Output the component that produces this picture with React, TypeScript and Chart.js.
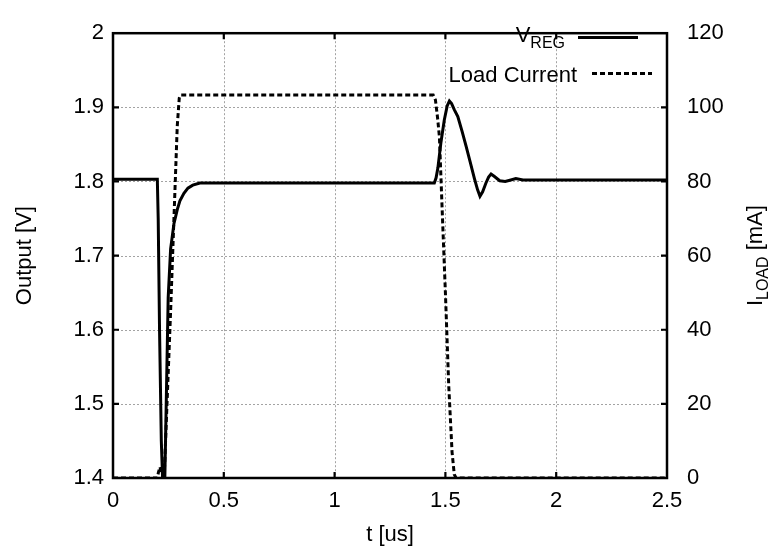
import React, { useEffect, useRef } from "react";
import { Chart, registerables } from "chart.js";

Chart.register(...registerables);

// ---- data (time in microseconds) ----
const vregTime = [0, 0.2, 0.204, 0.21, 0.218, 0.226, 0.232, 0.24, 0.249, 0.26, 0.275, 0.29, 0.302, 0.32, 0.338, 0.36, 0.392, 0.45, 1.45, 1.458, 1.466, 1.48, 1.495, 1.508, 1.518, 1.528, 1.54, 1.556, 1.575, 1.593, 1.612, 1.631, 1.645, 1.656, 1.668, 1.683, 1.695, 1.706, 1.72, 1.745, 1.77, 1.795, 1.818, 1.85, 1.9, 2.0, 2.5];
const vregValues = [1.803, 1.803, 1.75, 1.6, 1.45, 1.38, 1.37, 1.497, 1.643, 1.709, 1.743, 1.762, 1.774, 1.784, 1.791, 1.795, 1.798, 1.798, 1.798, 1.805, 1.818, 1.853, 1.883, 1.902, 1.9085, 1.905, 1.897, 1.8875, 1.868, 1.848, 1.826, 1.804, 1.789, 1.78, 1.786, 1.798, 1.806, 1.81, 1.807, 1.801, 1.8, 1.802, 1.804, 1.802, 1.802, 1.802, 1.802];

const loadTime = [0, 0.2, 0.205, 0.212, 0.218, 0.225, 0.232, 0.26, 0.29, 0.299, 0.305, 1.445, 1.455, 1.465, 1.473, 1.485, 1.5, 1.515, 1.53, 1.54, 1.548, 2.5];
const loadValues = [0, 0, 1.5, 3, 1.5, 0.5, 2, 45, 95, 102.5, 103.3, 103.3, 102, 97, 92, 73, 50, 25, 7, 1, 0, 0];

const xTicks = [0, 0.5, 1, 1.5, 2, 2.5];
const yTicks = [1.4, 1.5, 1.6, 1.7, 1.8, 1.9, 2];
const y1Ticks = [0, 20, 40, 60, 80, 100, 120];

const xTitle = "t [us]";
const yTitle = "Output [V]";
const y1TitleMain = "I";
const y1TitleSub = "LOAD";
const y1TitleRest = " [mA]";
const legendVMain = "V";
const legendVSub = "REG";
const legendLoad = "Load Current";

const FONT = '"Liberation Sans", Arial, Helvetica, sans-serif';

const framePlugin = {
  id: "gnuplotFrame",
  beforeDatasetsDraw(chart: any) {
    const { ctx, chartArea: a, scales } = chart;
    ctx.save();
    ctx.strokeStyle = "#a3a3a3";
    ctx.lineWidth = 1;
    ctx.setLineDash([2, 2]);
    ctx.beginPath();
    xTicks.slice(1, -1).forEach((v) => {
      const px = Math.round(scales.x.getPixelForValue(v)) + 0.5;
      ctx.moveTo(px, a.top);
      ctx.lineTo(px, a.bottom);
    });
    yTicks.slice(1, -1).forEach((v) => {
      const py = Math.round(scales.y.getPixelForValue(v)) + 0.5;
      ctx.moveTo(a.left, py);
      ctx.lineTo(a.right, py);
    });
    ctx.stroke();
    ctx.restore();
  },
  afterDatasetsDraw(chart: any) {
    const { ctx, chartArea: a, scales } = chart;
    ctx.save();
    ctx.strokeStyle = "#000";
    ctx.lineWidth = 2.5;
    ctx.setLineDash([]);
    ctx.strokeRect(a.left, a.top, a.right - a.left, a.bottom - a.top);
    const tl = 6;
    ctx.lineWidth = 2.2;
    ctx.beginPath();
    xTicks.slice(1, -1).forEach((v) => {
      const px = scales.x.getPixelForValue(v);
      ctx.moveTo(px, a.bottom);
      ctx.lineTo(px, a.bottom - tl);
      ctx.moveTo(px, a.top);
      ctx.lineTo(px, a.top + tl);
    });
    yTicks.slice(1, -1).forEach((v) => {
      const py = scales.y.getPixelForValue(v);
      ctx.moveTo(a.left, py);
      ctx.lineTo(a.left + tl, py);
    });
    y1Ticks.slice(1, -1).forEach((v) => {
      const py = scales.y1.getPixelForValue(v);
      ctx.moveTo(a.right, py);
      ctx.lineTo(a.right - tl, py);
    });
    ctx.stroke();

    // legend
    ctx.fillStyle = "#000";
    ctx.textBaseline = "alphabetic";
    ctx.textAlign = "left";
    ctx.font = `16px ${FONT}`;
    const subW = ctx.measureText(legendVSub).width;
    ctx.font = `22px ${FONT}`;
    const vW = ctx.measureText(legendVMain).width;
    const vEnd = 565;
    ctx.fillText(legendVMain, vEnd - subW - vW, 41.5);
    ctx.font = `16px ${FONT}`;
    ctx.fillText(legendVSub, vEnd - subW, 48);
    ctx.font = `22px ${FONT}`;
    ctx.textAlign = "right";
    ctx.fillText(legendLoad, 577, 81.5);

    ctx.lineWidth = 3;
    ctx.beginPath();
    ctx.moveTo(578, 37.5);
    ctx.lineTo(638, 37.5);
    ctx.stroke();
    ctx.setLineDash([5, 3]);
    ctx.beginPath();
    ctx.moveTo(592, 73.5);
    ctx.lineTo(652, 73.5);
    ctx.stroke();
    ctx.setLineDash([]);

    // right axis title
    ctx.translate(754, (a.top + a.bottom) / 2);
    ctx.rotate(-Math.PI / 2);
    ctx.textAlign = "left";
    ctx.font = `22px ${FONT}`;
    const w1 = ctx.measureText(y1TitleMain).width;
    const w3 = ctx.measureText(y1TitleRest).width;
    ctx.font = `16px ${FONT}`;
    const w2 = ctx.measureText(y1TitleSub).width;
    const x0 = -(w1 + w2 + w3) / 2;
    ctx.font = `22px ${FONT}`;
    ctx.fillText(y1TitleMain, x0, 7.5);
    ctx.font = `16px ${FONT}`;
    ctx.fillText(y1TitleSub, x0 + w1, 13.5);
    ctx.font = `22px ${FONT}`;
    ctx.fillText(y1TitleRest, x0 + w1 + w2, 7.5);
    ctx.restore();
  },
};

const fmt = (v: number) => String(Math.round(v * 100) / 100);

export default function App() {
  const ref = useRef<HTMLCanvasElement | null>(null);
  useEffect(() => {
    if (!ref.current) return;
    const vregPts = vregTime.map((t, i) => ({ x: t, y: vregValues[i] }));
    const loadPts = loadTime.map((t, i) => ({ x: t, y: loadValues[i] }));
    const tickFont = { family: FONT, size: 22 };
    const chart = new Chart(ref.current, {
      type: "line",
      data: {
        datasets: [
          {
            label: "VREG",
            data: vregPts,
            yAxisID: "y",
            borderColor: "#000",
            borderWidth: 3,
            pointRadius: 0,
            tension: 0,
            fill: false,
            clip: 0,
          },
          {
            label: "Load Current",
            data: loadPts,
            yAxisID: "y1",
            borderColor: "#000",
            borderWidth: 3,
            borderDash: [5, 3],
            pointRadius: 0,
            tension: 0,
            fill: false,
            clip: 0,
          },
        ],
      },
      options: {
        animation: false,
        responsive: false,
        maintainAspectRatio: false,
        devicePixelRatio: 1,
        layout: { padding: { top: 21, left: 0, right: 0, bottom: 0 } },
        plugins: { legend: { display: false }, tooltip: { enabled: false } },
        scales: {
          x: {
            type: "linear",
            min: 0,
            max: 2.5,
            afterBuildTicks: (s: any) => {
              s.ticks = xTicks.map((v) => ({ value: v }));
            },
            afterFit: (s: any) => {
              s.height = 70;
            },
            grid: { display: false, drawTicks: false },
            border: { display: false },
            ticks: { font: tickFont, color: "#000", padding: 10, maxRotation: 0, autoSkip: false, callback: (v: any) => fmt(Number(v)) },
            title: { display: true, text: xTitle, font: { family: FONT, size: 22 }, color: "#000", padding: { top: 0, bottom: 0 } },
          },
          y: {
            type: "linear",
            position: "left",
            min: 1.4,
            max: 2.0,
            afterBuildTicks: (s: any) => {
              s.ticks = yTicks.map((v) => ({ value: v }));
            },
            afterFit: (s: any) => {
              s.width = 113;
            },
            grid: { display: false, drawTicks: false },
            border: { display: false },
            ticks: { font: tickFont, color: "#000", padding: 9, autoSkip: false, callback: (v: any) => fmt(Number(v)) },
            title: { display: true, text: yTitle, font: { family: FONT, size: 22 }, color: "#000", padding: { top: 12, bottom: 0 } },
          },
          y1: {
            type: "linear",
            position: "right",
            min: 0,
            max: 120,
            afterBuildTicks: (s: any) => {
              s.ticks = y1Ticks.map((v) => ({ value: v }));
            },
            afterFit: (s: any) => {
              s.width = 103;
            },
            grid: { display: false, drawTicks: false },
            border: { display: false },
            ticks: { font: tickFont, color: "#000", padding: 20, autoSkip: false, callback: (v: any) => fmt(Number(v)) },
          },
        },
      },
      plugins: [framePlugin],
    } as any);
    return () => chart.destroy();
  }, []);
  return (
    <div style={{ position: "fixed", left: 0, top: 0, width: 770, height: 548, background: "#fff" }}>
      <canvas ref={ref} width={770} height={548} style={{ display: "block", width: 770, height: 548 }} />
    </div>
  );
}
